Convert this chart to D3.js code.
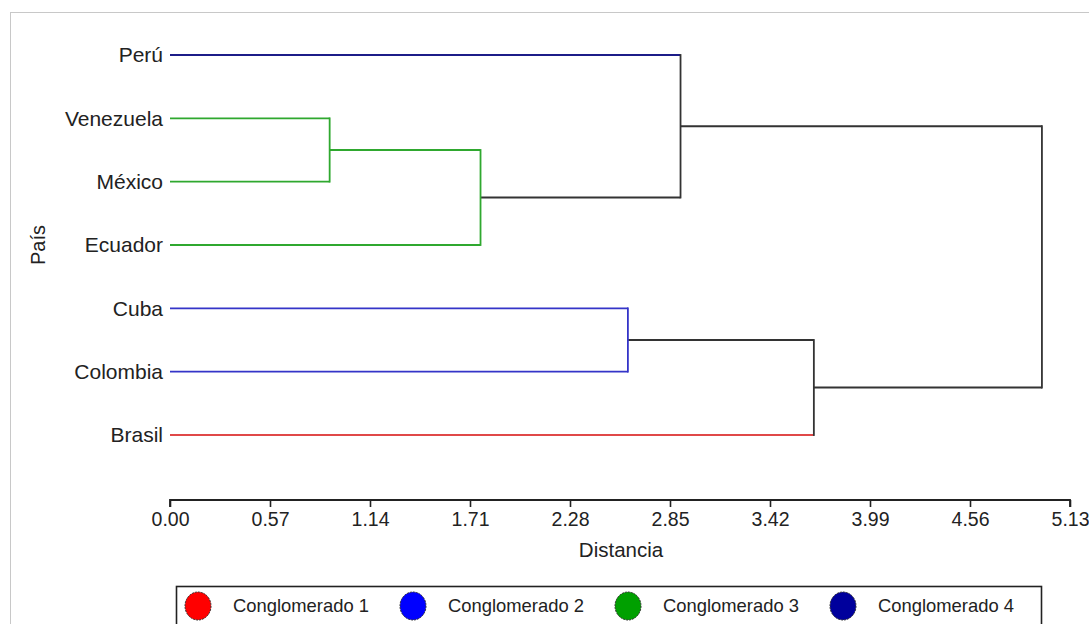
<!DOCTYPE html>
<html>
<head>
<meta charset="utf-8">
<script src="https://cdn.jsdelivr.net/npm/d3@7"></script>
<style>
  body { margin: 0; background: #fff; }
  svg { display: block; font-family: "Liberation Sans", Arial, sans-serif; }
</style>
</head>
<body>
<svg id="chart" width="1089" height="624"></svg>
<script>
// leaves, top to bottom, and their cluster number
const countries = ["Perú", "Venezuela", "México", "Ecuador", "Cuba", "Colombia", "Brasil"];
const countryCluster = [4, 3, 3, 3, 2, 2, 1];

// merges (agglomeration steps)
const mergeIds = ["m1", "m2", "m3", "m4", "m5", "m6"];
const mergeChildren = [
  ["Venezuela", "México"],
  ["m1", "Ecuador"],
  ["Perú", "m2"],
  ["Cuba", "Colombia"],
  ["m4", "Brasil"],
  ["m3", "m5"]
];
const mergeHeights = [0.91, 1.77, 2.91, 2.61, 3.67, 4.97];
const mergeCluster = [3, 3, 0, 2, 0, 0]; // 0 = spans clusters

const tickValues = [0, 0.57, 1.14, 1.71, 2.28, 2.85, 3.42, 3.99, 4.56, 5.13];
const legendLabels = ["Conglomerado 1", "Conglomerado 2", "Conglomerado 3", "Conglomerado 4"];
const legendColors = ["#ff0000", "#0000ff", "#00a000", "#00009c"];

// line colours per cluster
const lineColor = { 0: "#333333", 1: "#e04848", 2: "#3434c8", 3: "#2fa82f", 4: "#1c1c88" };

const svg = d3.select("#chart");

// outer frame
svg.append("rect")
  .attr("x", 10.5).attr("y", 12.5)
  .attr("width", 1100).attr("height", 700)
  .attr("fill", "#fff").attr("stroke", "#c8c8c8");

const x = d3.scaleLinear().domain([0, 5.13]).range([170, 1070]);
const y = d3.scalePoint().domain(countries).range([55, 435]);

// build the tree
const nodes = new Map();
countries.forEach((c, i) => nodes.set(c, { id: c, height: 0, cluster: countryCluster[i] }));
mergeIds.forEach((m, i) => nodes.set(m, {
  id: m,
  height: mergeHeights[i],
  cluster: mergeCluster[i],
  children: mergeChildren[i].map(c => nodes.get(c))
}));
const root = d3.hierarchy(nodes.get("m6"));

// positions: leaves by order, merges at mean of children
root.eachAfter(d => {
  d.px = x(d.data.height);
  d.py = d.children ? d3.mean(d.children, c => c.py) : y(d.data.id);
});

const g = svg.append("g").attr("fill", "none").attr("stroke-width", 1.8);

root.descendants().filter(d => d.children).forEach(d => {
  d.children.forEach(c => {
    const col = c.children ? lineColor[d.data.cluster] : lineColor[c.data.cluster];
    g.append("line")
      .attr("x1", c.px).attr("x2", d.px)
      .attr("y1", c.py).attr("y2", c.py)
      .attr("stroke", col);
  });
  g.append("line")
    .attr("x1", d.px).attr("x2", d.px)
    .attr("y1", d3.min(d.children, c => c.py) - 0.9)
    .attr("y2", d3.max(d.children, c => c.py) + 0.9)
    .attr("stroke", lineColor[d.data.cluster]);
});

// leaf labels
svg.append("g").selectAll("text")
  .data(root.leaves())
  .join("text")
  .attr("x", 163)
  .attr("y", d => d.py)
  .attr("dy", "0.35em")
  .attr("text-anchor", "end")
  .attr("font-size", 21)
  .attr("fill", "#222")
  .text(d => d.data.id);

// x axis
const axis = svg.append("g")
  .attr("transform", "translate(0,500)")
  .call(d3.axisBottom(x).tickValues(tickValues).tickFormat(d3.format(".2f")).tickSize(7).tickPadding(5));
axis.select(".domain").attr("stroke", "#222").attr("stroke-width", 1.8).attr("d", `M${x(0)},7V0H${x(5.13)}V7`);
axis.selectAll(".tick line").attr("stroke", "#222").attr("stroke-width", 1.6);
axis.selectAll(".tick text").attr("font-size", 19.5).attr("fill", "#222")
  .attr("font-family", "Liberation Sans, Arial, sans-serif");

svg.append("text")
  .attr("x", 621).attr("y", 557)
  .attr("text-anchor", "middle")
  .attr("font-size", 20.5).attr("fill", "#222")
  .text("Distancia");

svg.append("text")
  .attr("transform", "translate(45,245) rotate(-90)")
  .attr("text-anchor", "middle")
  .attr("font-size", 20).attr("fill", "#222")
  .text("País");

// legend
const legend = svg.append("g");
legend.append("rect")
  .attr("x", 176.5).attr("y", 586.5)
  .attr("width", 865).attr("height", 60)
  .attr("fill", "#fff").attr("stroke", "#222").attr("stroke-width", 1.6);

const item = legend.selectAll("g.item")
  .data(legendLabels)
  .join("g")
  .attr("class", "item")
  .attr("transform", (d, i) => `translate(${198 + i * 215},606)`);
item.append("ellipse")
  .attr("rx", 13).attr("ry", 14)
  .attr("fill", (d, i) => legendColors[i])
  .attr("stroke", "#333").attr("stroke-width", 1)
  .attr("stroke-dasharray", "2,1");
item.append("text")
  .attr("x", 35).attr("dy", "0.35em")
  .attr("font-size", 18.4).attr("fill", "#222")
  .text(d => d);
</script>
</body>
</html>
